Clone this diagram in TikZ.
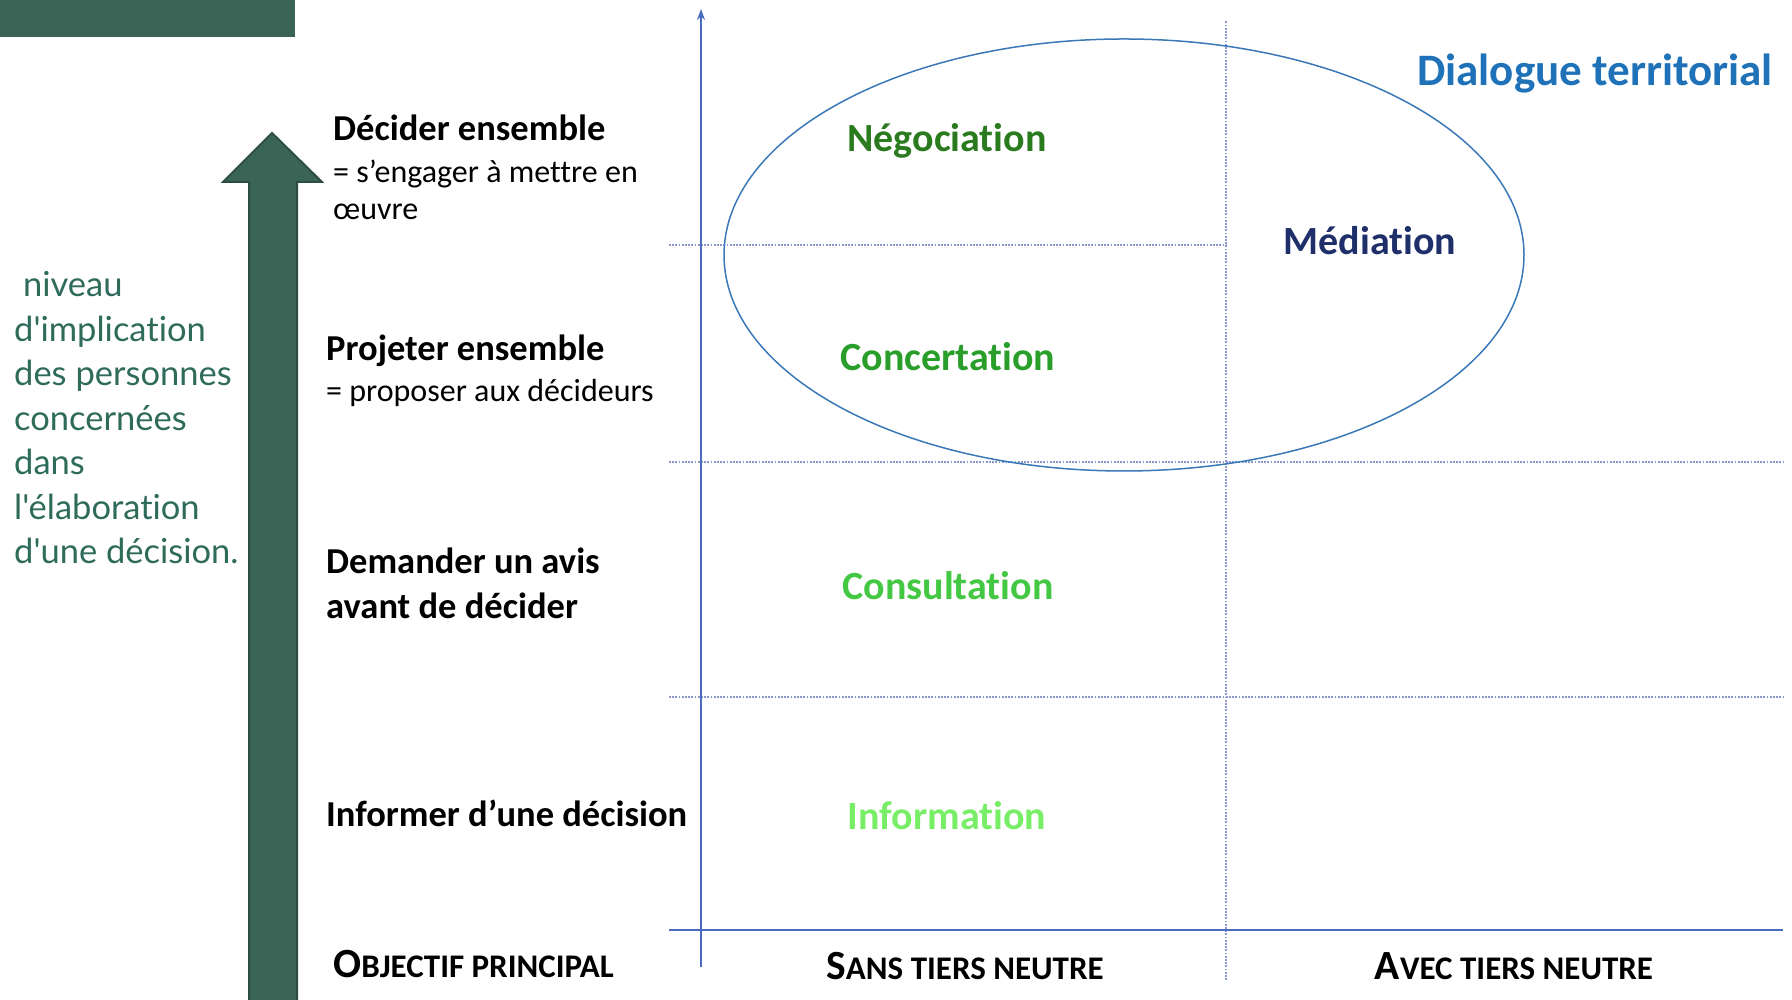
\documentclass[tikz,border=0pt]{standalone}
\usepackage{fontspec}
\setmainfont{Carlito}[Ligatures={NoCommon,NoContextual,NoRequired},RawFeature={-calt}]
\newfontfamily\gill{Lato}[Ligatures={NoCommon,NoContextual,NoRequired},RawFeature={-calt}]
\usetikzlibrary{arrows.meta}

\definecolor{sapin}{HTML}{3A6556}
\definecolor{sapinfonce}{HTML}{2C4E42}
\definecolor{texteniveau}{HTML}{2F6B5A}
\definecolor{axe}{HTML}{4A6CBF}
\definecolor{pointille}{HTML}{8A98CC}
\definecolor{bulle}{HTML}{3A78B8}
\definecolor{vertnego}{HTML}{2A7A1E}
\definecolor{vertconc}{HTML}{2A9E2A}
\definecolor{vertcons}{HTML}{44C844}
\definecolor{vertinfo}{HTML}{77EE66}
\definecolor{marine}{HTML}{1E2F6A}
\definecolor{bleudial}{HTML}{1F72B8}

% fausses petites capitales
\newcommand{\pcap}[2]{{\fontsize{41.5}{44}\selectfont #1}{\fontsize{33}{36}\selectfont #2}}

\begin{document}
\begin{tikzpicture}[x=1pt,y=1pt,
    every node/.style={inner sep=0pt},
    objectif/.style={anchor=base west, font=\bfseries\fontsize{36.5}{44}\selectfont},
    precision/.style={anchor=base west, font=\fontsize{32}{37}\selectfont},
    mode/.style={anchor=base, font=\bfseries\fontsize{40}{48}\selectfont},
    colonne/.style={anchor=base, font=\bfseries},
    grille/.style={pointille, line width=1.8pt, dash pattern=on 1.8pt off 1.4pt},
  ]
  \useasboundingbox (0,0) rectangle (1792,1000);

  % bandeau et grande fleche
  \fill[sapin] (0,963) rectangle (295,1000);
  \filldraw[fill=sapin, draw=sapinfonce, line width=2pt] (249,-5) -- (249,818) -- (223,818)
    -- (272,867) -- (322,818) -- (297,818) -- (297,-5) -- cycle;

  \foreach \ligne [count=\i] in {\ niveau, d'implication, des personnes, concernées, dans,
      l'élaboration, d'une décision.}
    \node[anchor=base west, text=texteniveau, font=\gill\fontsize{34.5}{44.5}\selectfont]
      (niveau-\i) at (14,{703-44.5*(\i-1)}) {\ligne};

  % objectifs
  \node[objectif] (decider) at (333,859) {Décider ensemble};
  \node[precision] (engager) at (333,817) {= s’engager à mettre en};
  \node[precision] (oeuvre) at (333,780) {œuvre};
  \node[objectif] (projeter) at (326,639) {Projeter ensemble};
  \node[precision] (proposer) at (326,598) {= proposer aux décideurs};
  \node[objectif] (demander) at (326,426) {Demander un avis};
  \node[objectif] (avant) at (326,381) {avant de décider};
  \node[objectif] (informer) at (326,173) {Informer d’une décision};
  \node[colonne, anchor=base west] (objectif) at (333,22) {\pcap{O}{BJECTIF PRINCIPAL}};

  % axes et grille
  \coordinate (axe-bas) at (701,33);
  \coordinate (axe-haut) at (701,991);
  \coordinate (abs-g) at (669,70);
  \coordinate (abs-d) at (1783,70);
  \coordinate (tiers-bas) at (1226,20);
  \coordinate (tiers-haut) at (1226,979);
  \draw[grille] (669,755) -- (1226,755);
  \draw[grille] (669,538) -- (1783,538);
  \draw[grille] (669,303) -- (1783,303);
  \draw[grille] (tiers-bas) -- (tiers-haut);
  \draw[axe, line width=1.6pt] (abs-g) -- (abs-d);
  \draw[axe, line width=1.6pt, -{Stealth[length=11pt,width=8pt]}] (axe-bas) -- (axe-haut);

  % dialogue territorial
  \draw[bulle, line width=1.5pt] (1124,745) ellipse [x radius=400, y radius=216];
  \node[anchor=base, font=\bfseries\fontsize{45}{54}\selectfont, text=bleudial] (dialogue)
    at (1595,914) {Dialogue territorial};

  \node[mode, text=vertnego] (negociation) at (947,848) {Négociation};
  \node[mode, text=vertconc] (concertation) at (948,629) {Concertation};
  \node[mode, text=vertcons] (consultation) at (948,400) {Consultation};
  \node[mode, text=vertinfo] (information) at (947,170) {Information};
  \node[mode, text=marine] (mediation) at (1370,745) {Médiation};

  \node[colonne] (sans) at (965,20) {\pcap{S}{ANS TIERS NEUTRE}};
  \node[colonne] (avec) at (1514,20) {\pcap{A}{VEC TIERS NEUTRE}};
\end{tikzpicture}
\end{document}
